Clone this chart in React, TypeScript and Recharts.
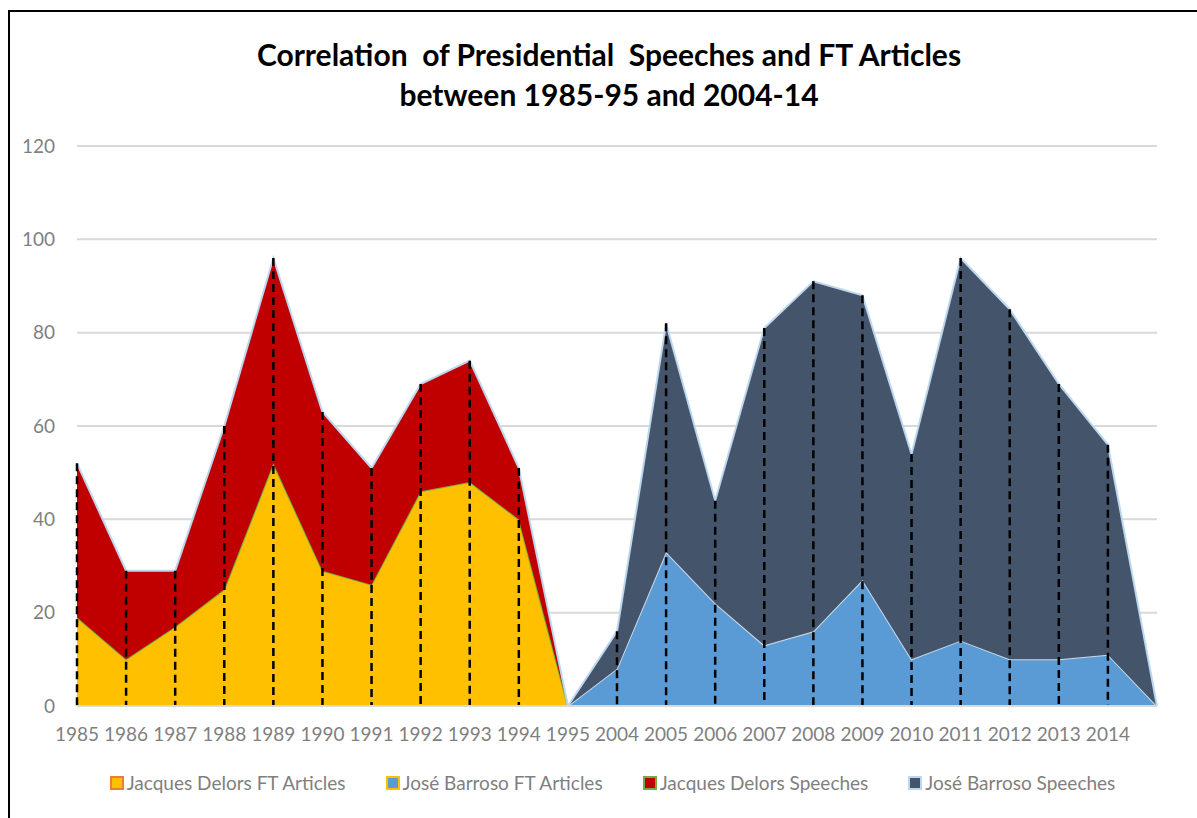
import React from "react"
import { AreaChart, Area, XAxis, YAxis, CartesianGrid, ReferenceLine } from "recharts"

const years = [
  "1985", "1986", "1987", "1988", "1989", "1990", "1991", "1992", "1993", "1994", "1995",
  "2004", "2005", "2006", "2007", "2008", "2009", "2010", "2011", "2012", "2013", "2014", "",
]

// stacked series, null where the president was not in office
const delorsArticles = [19, 10, 17, 25, 52, 29, 26, 46, 48, 40, 0, null, null, null, null, null, null, null, null, null, null, null, null]
const barrosoArticles = [null, null, null, null, null, null, null, null, null, null, 0, 8, 33, 22, 13, 16, 27, 10, 14, 10, 10, 11, 0]
const delorsSpeeches = [33, 19, 12, 35, 44, 34, 25, 23, 26, 11, 0, null, null, null, null, null, null, null, null, null, null, null, null]
const barrosoSpeeches = [null, null, null, null, null, null, null, null, null, null, 0, 8, 49, 22, 68, 75, 61, 44, 82, 75, 59, 45, 0]

const yTicks = [0, 20, 40, 60, 80, 100, 120]

const series = [
  { key: "delorsArticles", name: "Jacques Delors FT Articles", fill: "#FFC000", stroke: "#70AD47", legendBorder: "#ED7D31" },
  { key: "barrosoArticles", name: "José Barroso FT Articles", fill: "#5B9BD5", stroke: "#C9DAE8", legendBorder: "#FFC000" },
  { key: "delorsSpeeches", name: "Jacques Delors Speeches", fill: "#C00000", stroke: "#BDD7EE", legendBorder: "#70AD47" },
  { key: "barrosoSpeeches", name: "José Barroso Speeches", fill: "#44546A", stroke: "#BDD7EE", legendBorder: "#BDD7EE" },
]

const data = years.map((year, i) => ({
  year,
  delorsArticles: delorsArticles[i],
  barrosoArticles: barrosoArticles[i],
  delorsSpeeches: delorsSpeeches[i],
  barrosoSpeeches: barrosoSpeeches[i],
}))

const totals = data.map((d) =>
  (d.delorsArticles ?? 0) + (d.barrosoArticles ?? 0) + (d.delorsSpeeches ?? 0) + (d.barrosoSpeeches ?? 0)
)

const FONT = "Lato, 'Open Sans', sans-serif"
const GREY = "#7F7F7F"

export default function App() {
  return (
    <div
      style={{
        position: "absolute",
        left: 8,
        top: 10,
        width: 1189,
        height: 808,
        borderLeft: "2px solid #000",
        borderTop: "2px solid #000",
        background: "#fff",
        fontFamily: FONT,
      }}
    >
      <div
        style={{
          position: "absolute",
          left: 99,
          top: 22,
          width: 1000,
          textAlign: "center",
          fontWeight: 700,
          fontSize: 30,
          lineHeight: "40px",
          color: "#000",
        }}
      >
        <div style={{ whiteSpace: "pre" }}>Correlation  of Presidential  Speeches and FT Articles</div>
        <div>between 1985-95 and 2004-14</div>
      </div>

      <AreaChart
        width={1187}
        height={806}
        data={data}
        margin={{ top: 134, right: 40, left: 7, bottom: 72 }}
      >
        <CartesianGrid vertical={false} stroke="#D9D9D9" strokeWidth={2} />
        <XAxis
          dataKey="year"
          interval={0}
          height={40}
          tickLine={false}
          axisLine={{ stroke: "#D9D9D9", strokeWidth: 2 }}
          tick={{ fill: GREY, fontSize: 19, fontFamily: FONT }}
          tickMargin={16}
        />
        <YAxis
          width={60}
          domain={[0, 120]}
          ticks={yTicks}
          axisLine={false}
          tickLine={false}
          tick={{ fill: GREY, fontSize: 19, fontFamily: FONT }}
          tickMargin={16}
        />
        {series.map((s) => (
          <Area
            key={s.key}
            type="linear"
            dataKey={s.key}
            name={s.name}
            stackId="all"
            fill={s.fill}
            fillOpacity={1}
            stroke={s.stroke}
            strokeWidth={2}
            dot={false}
            activeDot={false}
            isAnimationActive={false}
          />
        ))}
        {data.map((d, i) =>
          totals[i] > 0 ? (
            <ReferenceLine
              key={`drop-${d.year}`}
              segment={[
                { x: d.year, y: totals[i] },
                { x: d.year, y: 0 },
              ]}
              stroke="#000"
              strokeWidth={2.5}
              strokeDasharray="8 5"
              ifOverflow="visible"
            />
          ) : null
        )}
      </AreaChart>

      <div
        style={{
          position: "absolute",
          left: 0,
          top: 759,
          width: 1185,
          paddingLeft: 20,
          boxSizing: "border-box",
          display: "flex",
          justifyContent: "center",
          gap: 40,
          fontSize: 19,
          color: GREY,
        }}
      >
        {series.map((s) => (
          <div key={s.key} style={{ display: "flex", alignItems: "center", gap: 3 }}>
            <span
              style={{
                display: "inline-block",
                width: 10,
                height: 10,
                background: s.fill,
                border: `2px solid ${s.legendBorder}`,
              }}
            />
            <span>{s.name}</span>
          </div>
        ))}
      </div>
    </div>
  )
}
